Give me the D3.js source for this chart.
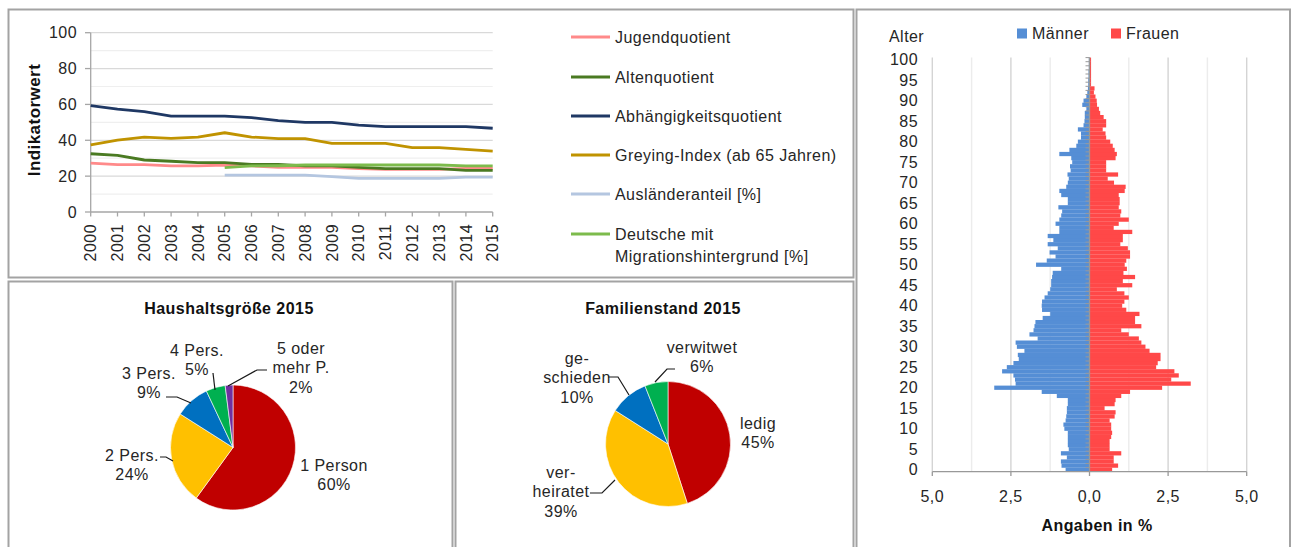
<!DOCTYPE html>
<html>
<head>
<meta charset="utf-8">
<script src="https://cdn.jsdelivr.net/npm/d3@7"></script>
<style>
  body { margin: 0; background: #fff; }
  svg text { font-family: "Liberation Sans", Arial, sans-serif; fill: #262626; letter-spacing: 0.45px; }
</style>
</head>
<body>
<svg id="chart" width="1293" height="547"></svg>
<script>
// ---- data: line chart
const years = [2000, 2001, 2002, 2003, 2004, 2005, 2006, 2007, 2008, 2009, 2010, 2011, 2012, 2013, 2014, 2015];
const jugend = [27.3, 26.4, 26.4, 25.7, 25.7, 26.2, 25.7, 24.9, 24.9, 24.9, 24.2, 23.8, 23.8, 23.8, 24.3, 24.3];
const alten = [32.5, 31.6, 29.0, 28.3, 27.5, 27.5, 26.6, 26.6, 25.7, 25.7, 24.9, 24.2, 24.2, 24.2, 23.2, 23.2];
const abhaengig = [59.3, 57.4, 56.0, 53.5, 53.5, 53.5, 52.6, 51.0, 50.0, 50.0, 48.5, 47.6, 47.6, 47.6, 47.6, 46.7];
const greying = [37.4, 40.1, 41.8, 41.1, 41.8, 44.2, 41.8, 40.9, 40.9, 38.3, 38.3, 38.3, 35.9, 35.9, 34.9, 34.0];
const auslaender = [null, null, null, null, null, 20.6, 20.6, 20.6, 20.6, 19.7, 18.8, 18.8, 18.8, 18.8, 19.5, 19.5];
const migration = [null, null, null, null, null, 24.7, 25.7, 25.8, 26.2, 26.2, 26.2, 26.2, 26.2, 26.2, 25.7, 25.7];
const lineTicks = [0, 20, 40, 60, 80, 100];

// ---- data: pies
const hhLabels = [["1 Person", "60%"], ["2 Pers.", "24%"], ["3 Pers.", "9%"], ["4 Pers.", "5%"], ["5 oder", "mehr P.", "2%"]];
const hhValues = [60, 24, 9, 5, 2];
const famLabels = [["ledig", "45%"], ["ver-", "heiratet", "39%"], ["ge-", "schieden", "10%"], ["verwitwet", "6%"]];
const famValues = [45, 39, 10, 6];

// ---- data: age pyramid (share in %, index = age 0..100)
const maenner = [0.76, 0.89, 0.91, 0.72, 0.91, 0.66, 0.69, 0.69, 0.69, 0.69,
  0.80, 0.83, 0.76, 0.74, 0.72, 0.72, 0.69, 0.69, 1.04, 1.52,
  3.03, 2.35, 2.37, 2.42, 2.78, 2.63, 2.42, 2.25, 2.28, 2.07,
  2.31, 2.35, 1.65, 1.91, 1.78, 1.75, 1.72, 1.49, 1.25, 1.51,
  1.52, 1.51, 1.43, 1.33, 1.25, 1.22, 1.22, 1.19, 1.17, 0.90,
  1.70, 1.36, 1.08, 1.27, 1.01, 1.33, 1.15, 1.33, 0.96, 0.96,
  1.08, 0.96, 0.90, 0.87, 0.99, 0.69, 0.69, 0.90, 0.96, 0.74,
  0.69, 0.66, 0.70, 0.60, 0.62, 0.55, 0.58, 0.96, 0.64, 0.42,
  0.37, 0.27, 0.27, 0.37, 0.19, 0.16, 0.15, 0.15, 0.10, 0.23,
  0.19, 0.10, 0.07, 0.05, 0.04, 0.04, 0.03, 0.03, 0.02, 0.02, 0.02];
const frauen = [0.72, 0.91, 0.77, 0.77, 1.01, 0.64, 0.64, 0.64, 0.69, 0.72,
  0.69, 0.69, 0.64, 0.80, 0.83, 0.48, 0.80, 0.83, 1.01, 1.29,
  2.31, 3.22, 2.60, 2.84, 2.70, 2.12, 2.17, 2.26, 2.26, 1.91,
  1.78, 1.65, 1.57, 1.25, 1.01, 1.65, 1.45, 1.45, 1.59, 1.17,
  1.04, 1.11, 1.25, 1.11, 0.87, 1.36, 1.06, 1.45, 1.08, 1.19,
  1.12, 1.17, 1.29, 1.29, 1.22, 0.98, 1.06, 1.06, 1.36, 0.77,
  0.93, 1.25, 0.98, 1.01, 0.93, 0.96, 0.96, 0.93, 1.12, 1.15,
  0.78, 0.58, 0.91, 0.53, 0.53, 0.53, 0.83, 0.87, 0.80, 0.74,
  0.66, 0.53, 0.51, 0.42, 0.53, 0.53, 0.45, 0.34, 0.30, 0.24,
  0.23, 0.19, 0.14, 0.16, 0.05, 0.05, 0.05, 0.05, 0.05, 0.05, 0.05];
const ageTicks = [0, 5, 10, 15, 20, 25, 30, 35, 40, 45, 50, 55, 60, 65, 70, 75, 80, 85, 90, 95, 100];
const pctTicks = [-5, -2.5, 0, 2.5, 5];
const pctGrid = [-5, -3.75, -2.5, -1.25, 0, 1.25, 2.5, 3.75, 5];

const svg = d3.select("#chart");
const border = "#a3a3a3";
const axisGrey = "#a6a6a6";
const fs = "16px";

// panel frames
[[8.5, 9.5, 845, 268], [856.5, 9.5, 433.5, 560], [8.5, 281.5, 444, 300], [455.5, 281.5, 398, 300]]
  .forEach(r => svg.append("rect")
    .attr("x", r[0]).attr("y", r[1]).attr("width", r[2]).attr("height", r[3])
    .attr("fill", "none").attr("stroke", border).attr("stroke-width", 2));

// ================= line chart =================
const lc = svg.append("g");
const x = d3.scalePoint().domain(years).range([90.7, 492.7]);
const y = d3.scaleLinear().domain([0, 100]).range([212, 32.7]);

// gridlines (minor at 10s, major at 20s)
lc.selectAll(".grid").data(d3.range(10, 101, 10)).join("line")
  .attr("x1", 90.7).attr("x2", 492.7)
  .attr("y1", d => y(d)).attr("y2", d => y(d))
  .attr("stroke", d => d % 20 === 0 ? "#d9d9d9" : "#efefef")
  .attr("stroke-width", 1.2);

// y axis
lc.append("line").attr("x1", 90.7).attr("x2", 90.7).attr("y1", y(100)).attr("y2", y(0))
  .attr("stroke", axisGrey).attr("stroke-width", 1.3);
lc.selectAll(".ytick").data(lineTicks).join("line")
  .attr("x1", 85).attr("x2", 90.7).attr("y1", d => y(d)).attr("y2", d => y(d))
  .attr("stroke", axisGrey).attr("stroke-width", 1.3);
lc.selectAll(".ylab").data(lineTicks).join("text")
  .attr("x", 77).attr("y", d => y(d)).attr("dy", "0.36em")
  .attr("text-anchor", "end").style("font-size", fs).text(d => d);

// x axis
lc.append("line").attr("x1", 90.7).attr("x2", 492.7).attr("y1", y(0)).attr("y2", y(0))
  .attr("stroke", axisGrey).attr("stroke-width", 1.3);
lc.selectAll(".xtick").data(years).join("line")
  .attr("x1", d => x(d)).attr("x2", d => x(d)).attr("y1", y(0)).attr("y2", y(0) + 4.5)
  .attr("stroke", axisGrey).attr("stroke-width", 1.3);
lc.selectAll(".xlab").data(years).join("text")
  .attr("transform", d => `translate(${x(d)},224) rotate(-90)`)
  .attr("dy", "0.36em").attr("text-anchor", "end")
  .style("font-size", fs).text(d => d);

lc.append("text")
  .attr("transform", "translate(40,120) rotate(-90)")
  .attr("text-anchor", "middle")
  .style("font-size", "17px").style("font-weight", "bold").style("fill", "#111")
  .text("Indikatorwert");

const series = [
  { name: ["Jugendquotient"], values: jugend, color: "#ff8a8a" },
  { name: ["Altenquotient"], values: alten, color: "#4a7a22" },
  { name: ["Abhängigkeitsquotient"], values: abhaengig, color: "#1f3864" },
  { name: ["Greying-Index (ab 65 Jahren)"], values: greying, color: "#c09300" },
  { name: ["Ausländeranteil [%]"], values: auslaender, color: "#b4c6e0" },
  { name: ["Deutsche mit", "Migrationshintergrund [%]"], values: migration, color: "#7dbb4c" }
];

const line = d3.line()
  .defined(d => d.v !== null)
  .x(d => x(d.year)).y(d => y(d.v));

series.forEach(s => {
  lc.append("path")
    .datum(years.map((yr, i) => ({ year: yr, v: s.values[i] })))
    .attr("d", line)
    .attr("fill", "none").attr("stroke", s.color)
    .attr("stroke-width", 2.8).attr("stroke-linejoin", "round");
});

// legend
const legendY = [37, 77, 116, 155, 194, 234];
const lg = lc.selectAll(".leg").data(series).join("g")
  .attr("transform", (d, i) => `translate(571,${legendY[i]})`);
lg.append("line").attr("x1", 0).attr("x2", 39).attr("y1", 0).attr("y2", 0)
  .attr("stroke", d => d.color).attr("stroke-width", 2.8);
lg.each(function(d) {
  const t = d3.select(this).append("text").attr("x", 44).attr("y", 0)
    .style("font-size", fs);
  d.name.forEach((n, j) => t.append("tspan").attr("x", 44).attr("dy", j === 0 ? "0.36em" : "1.38em").text(n));
});

// ================= pies =================
const pieColors = ["#c00000", "#ffc000", "#0070c0", "#00b050", "#7030a0"];
const pie = d3.pie().sort(null);
const arc = d3.arc().innerRadius(0).outerRadius(62.5);

function drawPie(cx, cy, title, titleX, values, labels, labelPos, leaders) {
  const g = svg.append("g");
  g.append("text").attr("x", titleX).attr("y", 308).attr("dy", "0.36em")
    .attr("text-anchor", "middle")
    .style("font-size", fs).style("font-weight", "bold").style("fill", "#111")
    .text(title);
  g.append("g").attr("transform", `translate(${cx},${cy})`)
    .selectAll("path").data(pie(values)).join("path")
    .attr("d", arc)
    .attr("fill", (d, i) => pieColors[i])
    .attr("stroke", "#fff").attr("stroke-width", 0.6);
  leaders.forEach(pts => g.append("path")
    .attr("d", d3.line()(pts))
    .attr("fill", "none").attr("stroke", "#1a1a1a").attr("stroke-width", 1.2));
  labels.forEach((lines, i) => {
    const p = labelPos[i];
    const t = g.append("text").attr("text-anchor", "middle").style("font-size", fs);
    lines.forEach((l, j) => t.append("tspan").attr("x", p[0]).attr("y", p[1] + j * 19.5)
      .attr("dy", "0.36em").text(l));
  });
}

drawPie(233, 447.5, "Haushaltsgröße 2015", 229, hhValues, hhLabels,
  [[334, 465], [132, 455], [149, 373], [197, 350], [301, 348]],
  [[[160, 457], [166, 457], [173, 461]],
   [[166, 397], [177, 397], [191, 403]],
   [[213, 373], [215, 390]],
   [[267, 370], [257, 370], [228, 386]]]);

drawPie(668, 444, "Familienstand 2015", 663, famValues, famLabels,
  [[758, 423], [561, 472], [577, 358], [702, 347]],
  [[[590, 493], [602, 493], [615, 480]],
   [[608, 377], [618, 377], [629, 395]],
   [[675, 369], [667, 369], [655, 382]]]);

// ================= age pyramid =================
const pg = svg.append("g");
const ages = maenner.map((d, i) => i);
const px = d3.scaleLinear().domain([-5, 5]).range([932.3, 1246.7]);
const py = d3.scaleBand().domain(ages).range([471.7, 57.6]).padding(0);

pg.selectAll(".pgrid").data(pctGrid).join("line")
  .attr("x1", d => px(d)).attr("x2", d => px(d))
  .attr("y1", 57.6).attr("y2", 471.7)
  .attr("stroke", d => d % 2.5 === 0 ? "#d4d4d4" : "#ececec")
  .attr("stroke-width", 1.4);

pg.selectAll(".m").data(maenner).join("rect")
  .attr("x", d => px(-d)).attr("width", d => px(0) - px(-d))
  .attr("y", (d, i) => py(i)).attr("height", py.bandwidth() + 0.15)
  .attr("fill", "#558ed5");
pg.selectAll(".f").data(frauen).join("rect")
  .attr("x", px(0)).attr("width", d => px(d) - px(0))
  .attr("y", (d, i) => py(i)).attr("height", py.bandwidth() + 0.15)
  .attr("fill", "#ff4848");

// centre axis with category ticks
pg.append("line").attr("x1", px(0)).attr("x2", px(0)).attr("y1", 57.6).attr("y2", 471.7)
  .attr("stroke", "#999").attr("stroke-width", 1.3);
pg.selectAll(".ctick").data(ages).join("line")
  .attr("x1", px(0) - 4).attr("x2", px(0))
  .attr("y1", d => py(d)).attr("y2", d => py(d))
  .attr("stroke", "#999").attr("stroke-width", 1);

// bottom axis
pg.append("line").attr("x1", px(-5)).attr("x2", px(5)).attr("y1", 471.7).attr("y2", 471.7)
  .attr("stroke", "#999").attr("stroke-width", 1.3);
pg.selectAll(".btick").data(pctTicks).join("line")
  .attr("x1", d => px(d)).attr("x2", d => px(d)).attr("y1", 471.7).attr("y2", 476)
  .attr("stroke", "#999").attr("stroke-width", 1.3);
pg.selectAll(".blab").data(pctTicks).join("text")
  .attr("x", d => px(d)).attr("y", 496).attr("dy", "0.36em")
  .attr("text-anchor", "middle").style("font-size", fs)
  .text(d => Math.abs(d).toFixed(1).replace(".", ","));

pg.selectAll(".alab").data(ageTicks).join("text")
  .attr("x", 918).attr("y", d => py(d) + py.bandwidth() / 2).attr("dy", "0.36em")
  .attr("text-anchor", "end").style("font-size", fs).text(d => d);

pg.append("text").attr("x", 889).attr("y", 36).attr("dy", "0.36em")
  .style("font-size", fs).text("Alter");
pg.append("text").attr("x", 1097).attr("y", 525).attr("dy", "0.36em")
  .attr("text-anchor", "middle").style("font-size", fs)
  .style("font-weight", "bold").style("fill", "#111").text("Angaben in %");

const pLegend = [{ name: "Männer", color: "#558ed5", x: 1017 }, { name: "Frauen", color: "#ff4848", x: 1111 }];
const pl = pg.selectAll(".pl").data(pLegend).join("g").attr("transform", d => `translate(${d.x},28.5)`);
pl.append("rect").attr("width", 10).attr("height", 10).attr("fill", d => d.color);
pl.append("text").attr("x", 15).attr("y", 5).attr("dy", "0.36em")
  .style("font-size", fs).text(d => d.name);
</script>
</body>
</html>
